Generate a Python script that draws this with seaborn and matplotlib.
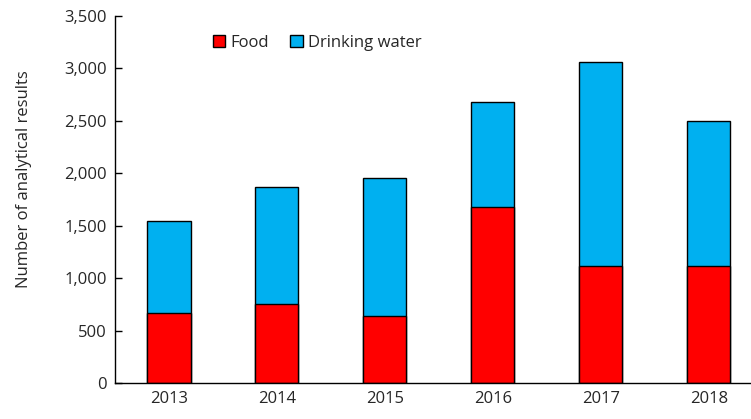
import matplotlib
matplotlib.use("Agg")
import matplotlib.pyplot as plt
import matplotlib.ticker as mticker
from matplotlib.patches import Patch
import pandas as pd
import seaborn as sns

# === DATA ===
years = ['2013', '2014', '2015', '2016', '2017', '2018']
food = [665, 750, 642, 1675, 1119, 1119]
drinking_water = [880, 1122, 1310, 1002, 1939, 1383]

FOOD_COLOR = '#ff0000'
WATER_COLOR = '#00b0f0'

df = pd.DataFrame({'year': years, 'food': food, 'water': drinking_water})
df['total'] = df['food'] + df['water']

sns.set_theme(style='white')
plt.rcParams['font.family'] = ['Open Sans', 'DejaVu Sans']

fig = plt.figure(figsize=(7.51, 4.19), dpi=100)
ax = fig.add_axes([0.153, 0.086, 0.847, 0.876])

# stacked bars: total first (blue), food over it (red)
sns.barplot(data=df, x='year', y='total', color=WATER_COLOR, saturation=1,
            width=0.4, edgecolor='black', linewidth=1, ax=ax)
sns.barplot(data=df, x='year', y='food', color=FOOD_COLOR, saturation=1,
            width=0.4, edgecolor='black', linewidth=1, ax=ax)

ax.set_ylim(0, 3500)
ax.set_xlim(-0.5, 5.39)
ax.yaxis.set_major_locator(mticker.MultipleLocator(500))
ax.yaxis.set_major_formatter(mticker.FuncFormatter(lambda v, p: f"{int(v):,}"))

ax.set_xlabel('')
ax.set_ylabel('Number of analytical results', fontsize=12)
ax.yaxis.set_label_coords(-0.13, 0.555)
ax.tick_params(axis='y', direction='in', length=5, width=1, color='black',
               labelsize=12, left=True, pad=6)
ax.tick_params(axis='x', length=0, labelsize=12, pad=6)

sns.despine(ax=ax)
for s in ['left', 'bottom']:
    ax.spines[s].set_color('black')
    ax.spines[s].set_linewidth(1)

handles = [Patch(facecolor=FOOD_COLOR, edgecolor='black', label='Food'),
           Patch(facecolor=WATER_COLOR, edgecolor='black', label='Drinking water')]
ax.legend(handles=handles, loc='upper left', bbox_to_anchor=(0.13, 0.99),
          ncol=2, frameon=False, fontsize=12, handlelength=0.75,
          handleheight=0.75, handletextpad=0.3, columnspacing=1.3)

plt.savefig('out.png', dpi=100)
